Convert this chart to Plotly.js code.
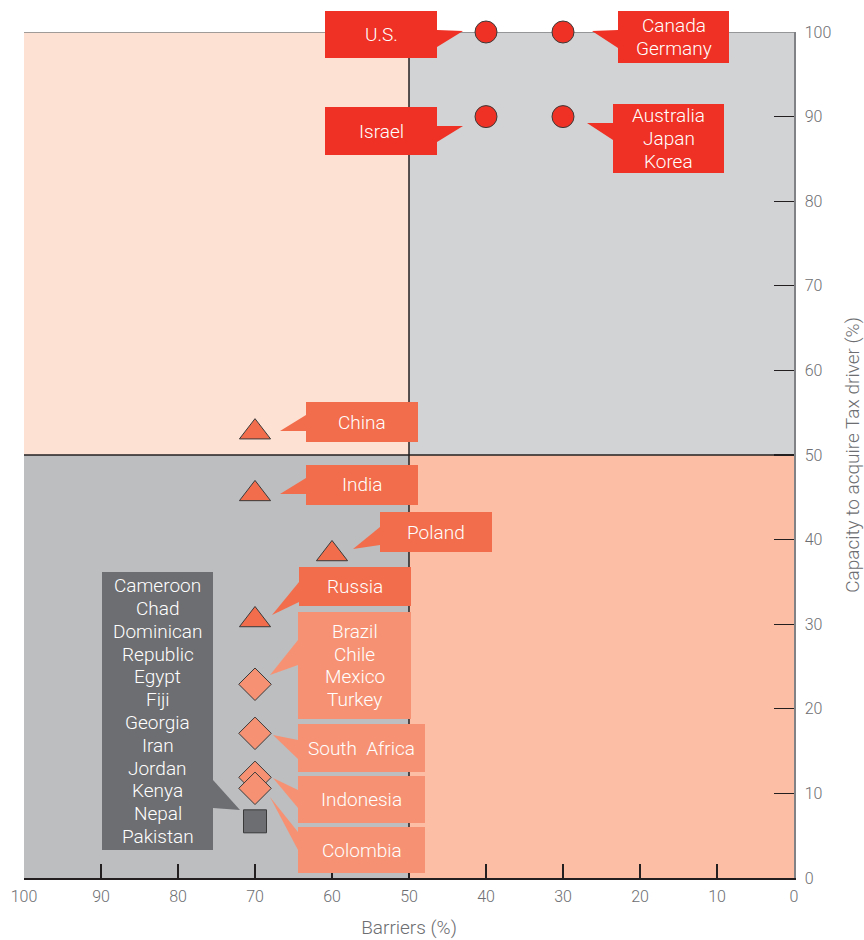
<!DOCTYPE html>
<html>
<head>
<meta charset="utf-8">
<script src="https://cdn.plot.ly/plotly-3.0.1.min.js"></script>
<style>html,body{margin:0;padding:0;background:#fff}#chart{width:864px;height:940px}</style>
</head>
<body>
<div id="chart"></div>
<script>
// ---- Data ----
const circleX = [40, 30, 40, 30];
const circleY = [100, 100, 90, 90];
const circleNames = ['U.S.', 'Canada, Germany', 'Israel', 'Australia, Japan, Korea'];

const triangleX = [70, 70, 60, 70];
const triangleY = [52.7, 45.4, 38.3, 30.5];
const triangleNames = ['China', 'India', 'Poland', 'Russia'];

const diamondX = [70, 70, 70, 70];
const diamondY = [22.9, 17.1, 11.9, 10.6];
const diamondNames = ['Brazil, Chile, Mexico, Turkey', 'South Africa', 'Indonesia', 'Colombia'];

const squareX = [70];
const squareY = [6.7];
const squareNames = ['Cameroon, Chad, Dominican Republic, Egypt, Fiji, Georgia, Iran, Jordan, Kenya, Nepal, Pakistan'];

const xTicks = [100, 90, 80, 70, 60, 50, 40, 30, 20, 10, 0];
const yTicks = [0, 10, 20, 30, 40, 50, 60, 70, 80, 90, 100];

// ---- Layout helpers ----
const W = 864, H = 940;
const M = {l: 24, r: 70, t: 32, b: 62};
const PW = W - M.l - M.r, PH = H - M.t - M.b;
function px2x(px) { return (px - M.l) / PW; }        // paper x
function py2y(py) { return (M.t + PH - py) / PH; }   // paper y

const RED = '#ee3124', ORANGE = '#f26d4b', SALMON = '#f69273', GREY = '#6d6e71';
const FONT = 'Roboto, sans-serif';
const LINE_H = 22.8;

// callouts: box in page pixels [x0,x1,y0,y1], wedge points
const callouts = [
  {t: ['U.S.'], c: RED, b: [325, 437, 11, 58], w: [[437, 30], [463, 31], [437, 47]]},
  {t: ['Canada', 'Germany'], c: RED, b: [618, 729, 11, 63], w: [[618, 30], [592, 31], [618, 48]]},
  {t: ['Israel'], c: RED, b: [325, 437, 107, 155], w: [[437, 126], [463, 126], [437, 142]]},
  {t: ['Australia', 'Japan', 'Korea'], c: RED, b: [613, 724, 104, 173], w: [[613, 123], [587, 123], [613, 140]]},
  {t: ['China'], c: ORANGE, b: [306, 418, 402, 442], w: [[306, 415], [280, 431], [306, 431]]},
  {t: ['India'], c: ORANGE, b: [306, 418, 465, 505], w: [[306, 478], [280, 494], [306, 494]]},
  {t: ['Poland'], c: ORANGE, b: [380, 492, 512, 552], w: [[380, 527], [353, 549], [380, 545]]},
  {t: ['Russia'], c: ORANGE, b: [299, 411, 567, 606], w: [[299, 582], [272, 615], [299, 602]]},
  {t: ['Brazil', 'Chile', 'Mexico', 'Turkey'], c: SALMON, b: [298, 411, 612, 719], w: [[298, 640], [270, 675], [298, 665]]},
  {t: ['South  Africa'], c: SALMON, b: [298, 425, 724, 772], w: [[298, 740], [273, 735], [298, 759]]},
  {t: ['Indonesia'], c: SALMON, b: [298, 425, 776, 823], w: [[298, 790], [273, 778], [298, 808]]},
  {t: ['Colombia'], c: SALMON, b: [298, 425, 827, 873], w: [[298, 832], [270, 797], [298, 850]]},
  {t: ['Cameroon', 'Chad', 'Dominican', 'Republic', 'Egypt', 'Fiji', 'Georgia', 'Iran', 'Jordan', 'Kenya', 'Nepal', 'Pakistan'],
    c: GREY, b: [102, 213, 572, 850], w: [[213, 780], [240, 810], [213, 808]]}
];

const shapes = [
  {type: 'rect', xref: 'x', yref: 'y', x0: 100, x1: 50, y0: 50, y1: 100, fillcolor: '#fde1d3', line: {width: 0}, layer: 'below'},
  {type: 'rect', xref: 'x', yref: 'y', x0: 50, x1: 0, y0: 50, y1: 100, fillcolor: '#d1d3d4', line: {width: 0}, layer: 'below'},
  {type: 'rect', xref: 'x', yref: 'y', x0: 100, x1: 50, y0: 0, y1: 50, fillcolor: '#bcbec0', line: {width: 0}, layer: 'below'},
  {type: 'rect', xref: 'x', yref: 'y', x0: 50, x1: 0, y0: 0, y1: 50, fillcolor: '#fcbfa5', line: {width: 0}, layer: 'below'},
  {type: 'line', xref: 'x', yref: 'y', x0: 50, x1: 50, y0: 0, y1: 100, line: {color: '#231f20', width: 1.5}, layer: 'below'},
  {type: 'line', xref: 'x', yref: 'y', x0: 100, x1: 0, y0: 50, y1: 50, line: {color: '#231f20', width: 1.5}, layer: 'below'},
  {type: 'line', xref: 'x', yref: 'y', x0: 100, x1: 0, y0: 100, y1: 100, line: {color: '#808285', width: 1.5}, layer: 'below'}
];
const annotations = [];
callouts.forEach(function (co) {
  shapes.push({type: 'rect', xref: 'paper', yref: 'paper', x0: px2x(co.b[0]), x1: px2x(co.b[1]), y0: py2y(co.b[3]), y1: py2y(co.b[2]),
    fillcolor: co.c, line: {width: 0}, layer: 'above'});
  const p = co.w.map(function (q, i) { return (i ? 'L' : 'M') + px2x(q[0]) + ',' + py2y(q[1]); }).join(' ') + ' Z';
  shapes.push({type: 'path', xref: 'paper', yref: 'paper', path: p, fillcolor: co.c, line: {width: 0}, layer: 'above'});
  const cx = (co.b[0] + co.b[1]) / 2, cy = (co.b[2] + co.b[3]) / 2;
  const n = co.t.length;
  co.t.forEach(function (line, i) {
    const ly = cy + (i - (n - 1) / 2) * LINE_H;
    annotations.push({xref: 'paper', yref: 'paper', x: px2x(cx), y: py2y(ly), xanchor: 'center', yanchor: 'middle',
      text: line, showarrow: false, font: {family: FONT, size: 19, color: '#ffffff', weight: 300}, align: 'center'});
  });
});

const mline = {color: '#3a3a3a', width: 1};
const traces = [
  {type: 'scatter', mode: 'markers', x: circleX, y: circleY, text: circleNames, cliponaxis: false,
    marker: {symbol: 'circle', size: 22, color: RED, line: mline}},
  {type: 'scatter', mode: 'markers', x: triangleX, y: triangleY, text: triangleNames, cliponaxis: false,
    marker: {symbol: 'triangle-up', size: 27, color: ORANGE, line: mline}},
  {type: 'scatter', mode: 'markers', x: diamondX, y: diamondY, text: diamondNames, cliponaxis: false,
    marker: {symbol: 'diamond', size: 25, color: SALMON, line: mline}},
  {type: 'scatter', mode: 'markers', x: squareX, y: squareY, text: squareNames, cliponaxis: false,
    marker: {symbol: 'square', size: 23, color: GREY, line: mline}}
];

const tickFont = {family: FONT, size: 16, color: '#6d6e71', weight: 300};
const titleFont = {family: FONT, size: 19, color: '#6d6e71', weight: 300};
const layout = {
  width: W, height: H,
  margin: M,
  paper_bgcolor: '#ffffff', plot_bgcolor: '#ffffff',
  showlegend: false,
  xaxis: {range: [100, 0], tickvals: xTicks, ticktext: xTicks.map(String), ticks: 'inside', ticklen: 14, tickwidth: 1.2,
    tickcolor: '#231f20', showgrid: false, zeroline: false, showline: true, linecolor: '#231f20', linewidth: 1.5,
    tickfont: tickFont, automargin: false, ticklabelstandoff: 3,
    title: {text: 'Barriers (%)', font: titleFont, standoff: 16}},
  yaxis: {range: [0, 100], side: 'right', tickvals: yTicks, ticktext: yTicks.map(String), ticks: 'inside', ticklen: 20, tickwidth: 1.2,
    tickcolor: '#231f20', showgrid: false, zeroline: false, showline: true, linecolor: '#808285', linewidth: 1.5,
    tickfont: tickFont, automargin: false, ticklabelstandoff: 6,
    title: {text: 'Capacity to acquire Tax driver (%)', font: titleFont, standoff: 16}},
  shapes: shapes,
  annotations: annotations
};

Plotly.newPlot('chart', traces, layout, {displayModeBar: false, staticPlot: true});
</script>
</body>
</html>
